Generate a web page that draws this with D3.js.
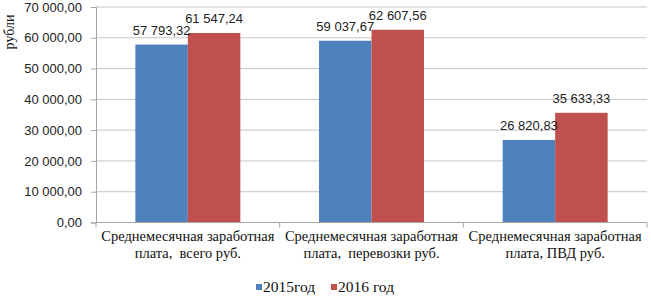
<!DOCTYPE html>
<html>
<head>
<meta charset="utf-8">
<script src="https://cdn.jsdelivr.net/npm/d3@7"></script>
<style>
  body { margin: 0; background: #fff; }
  svg { display: block; }
</style>
</head>
<body>
<div id="root"></div>
<script>
// data
const categories = [
    "Среднемесячная заработная\nплата,  всего руб.",
    "Среднемесячная заработная\nплата,  перевозки руб.",
    "Среднемесячная заработная\nплата, ПВД руб."
];
const seriesNames = ["2015год", "2016 год"];
const values2015 = [57793.32, 59037.67, 26820.83];
const values2016 = [61547.24, 62607.56, 35633.33];
const yTicks = [0, 10000, 20000, 30000, 40000, 50000, 60000, 70000];
const yTitle = "рубли";

const colors = ["#4f81bd", "#c0504d"];

const w = 651;
const h = 296;
const plotLeft = 96, plotRight = 647, plotTop = 7, plotBottom = 222.5;

const ru = d3.formatLocale({ decimal: ",", thousands: "\u00a0", grouping: [3], currency: ["", " руб."] });
const fmt = ru.format(",.2f");

const svg = d3.select("#root")
    .append("svg")
    .attr("width", w)
    .attr("height", h);

const x0 = d3.scaleBand()
    .domain(categories)
    .range([plotLeft, plotRight])
    .padding(0);

const x1 = d3.scaleBand()
    .domain(seriesNames)
    .range([0, x0.bandwidth()])
    .paddingInner(0)
    .paddingOuter(0.75);

const y = d3.scaleLinear()
    .domain([0, 70000])
    .range([plotBottom, plotTop]);

// gridlines
svg.append("g")
    .selectAll("line")
    .data(yTicks.slice(1))
    .enter()
    .append("line")
    .attr("x1", plotLeft)
    .attr("x2", plotRight)
    .attr("y1", d => y(d))
    .attr("y2", d => y(d))
    .attr("stroke", "#c6c6c6")
    .attr("stroke-width", 1);

// y axis
const yAxis = svg.append("g")
    .attr("transform", `translate(${plotLeft},0)`)
    .call(d3.axisLeft(y).tickValues(yTicks).tickFormat(fmt).tickSize(5).tickPadding(9));
yAxis.select(".domain").attr("stroke", "#a6a6a6");
yAxis.selectAll(".tick line").attr("stroke", "#a6a6a6");
yAxis.selectAll("text")
    .attr("font-family", "'Liberation Sans', Arial, sans-serif")
    .attr("font-size", "13px")
    .attr("fill", "#222");

// bars
const rows = categories.map((c, i) => ({ cat: c, vals: [values2015[i], values2016[i]] }));
const groups = svg.append("g")
    .selectAll("g")
    .data(rows)
    .enter()
    .append("g")
    .attr("transform", d => `translate(${x0(d.cat)},0)`);

groups.selectAll("rect")
    .data(d => d.vals.map((v, k) => ({ name: seriesNames[k], v: v, k: k })))
    .enter()
    .append("rect")
    .attr("x", d => x1(d.name))
    .attr("y", d => y(d.v))
    .attr("width", x1.bandwidth())
    .attr("height", d => y(0) - y(d.v))
    .attr("fill", d => colors[d.k]);

groups.selectAll("text")
    .data(d => d.vals.map((v, k) => ({ name: seriesNames[k], v: v, k: k })))
    .enter()
    .append("text")
    .attr("x", d => x1(d.name) + x1.bandwidth() / 2)
    .attr("y", d => y(d.v) - 10)
    .attr("text-anchor", "middle")
    .attr("font-family", "'Liberation Sans', Arial, sans-serif")
    .attr("font-size", "13px")
    .attr("fill", "#222")
    .text(d => fmt(d.v));

// x axis
const xAxis = svg.append("g")
    .attr("transform", `translate(0,${plotBottom})`);
xAxis.append("line")
    .attr("x1", plotLeft).attr("x2", plotRight)
    .attr("stroke", "#a6a6a6");
xAxis.selectAll("line.tick")
    .data(categories.map(c => x0(c)).concat([plotRight]))
    .enter()
    .append("line")
    .attr("class", "tick")
    .attr("x1", d => d).attr("x2", d => d)
    .attr("y1", 0).attr("y2", 5)
    .attr("stroke", "#a6a6a6");

const catLabels = xAxis.selectAll("text")
    .data(categories)
    .enter()
    .append("text")
    .attr("x", d => x0(d) + x0.bandwidth() / 2)
    .attr("y", 18.5)
    .attr("text-anchor", "middle")
    .attr("font-family", "'Liberation Serif', 'Times New Roman', serif")
    .attr("font-size", "14.5px")
    .attr("fill", "#111")
    .style("white-space", "pre");
catLabels.each(function (d) {
    const lines = d.split("\n");
    d3.select(this).selectAll("tspan")
        .data(lines)
        .enter()
        .append("tspan")
        .attr("x", x0(d) + x0.bandwidth() / 2)
        .attr("dy", (l, i) => i === 0 ? 0 : 17)
        .text(l => l);
});

// y title
svg.append("text")
    .attr("transform", "translate(14,32) rotate(-90)")
    .attr("text-anchor", "middle")
    .attr("font-family", "'Liberation Serif', 'Times New Roman', serif")
    .attr("font-size", "14px")
    .attr("fill", "#111")
    .text(yTitle);

// legend
const legendX = [256, 331];
const legend = svg.append("g");
const items = legend.selectAll("g")
    .data(seriesNames)
    .enter()
    .append("g")
    .attr("transform", (d, i) => `translate(${legendX[i]},284)`);
items.append("rect")
    .attr("width", 6)
    .attr("height", 6)
    .attr("fill", (d, i) => colors[i]);
items.append("text")
    .attr("x", 7)
    .attr("y", 8)
    .attr("font-family", "'Liberation Serif', 'Times New Roman', serif")
    .attr("font-size", "15.5px")
    .attr("fill", "#111")
    .text(d => d);
</script>
</body>
</html>
